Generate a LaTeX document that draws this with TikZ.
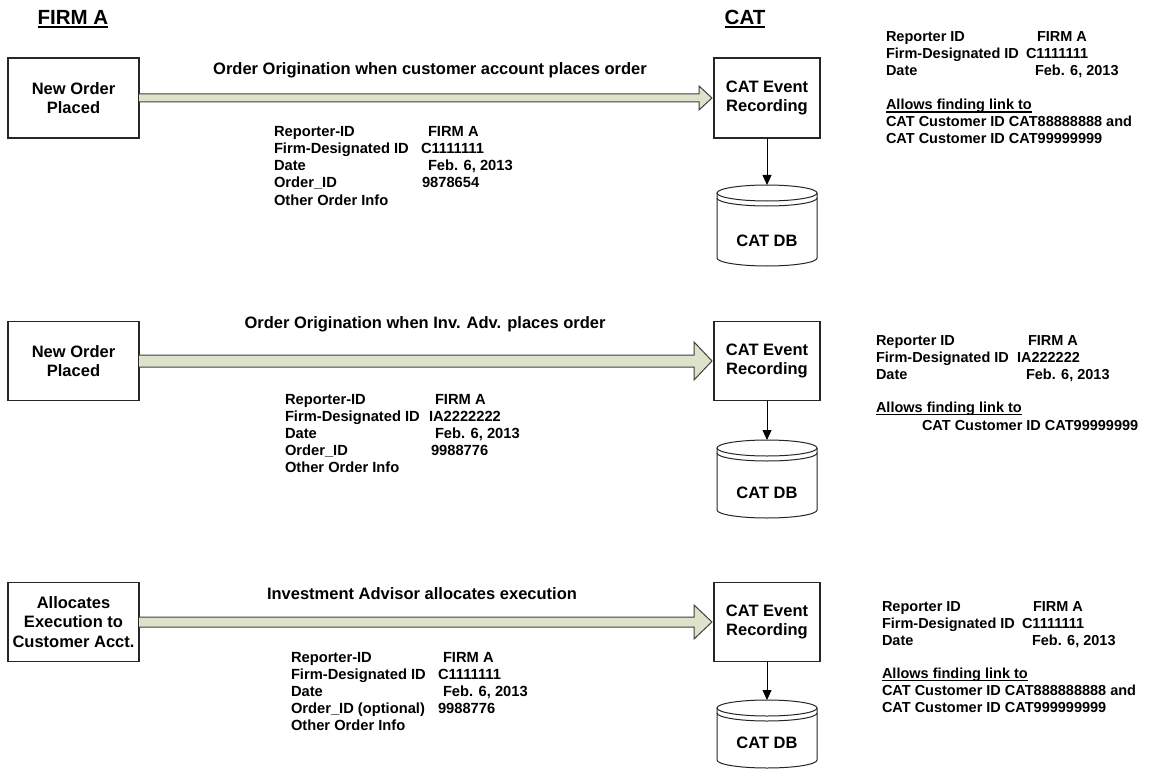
\documentclass[tikz,border=0pt]{standalone}
\usepackage{fontspec}
\setmainfont{Liberation Sans}
\usetikzlibrary{arrows.meta,calc}
\definecolor{arrowfill}{RGB}{221,227,203}
\newcommand\myul[2]{\setbox0\hbox{#2}\rlap{\rule[-2.8pt]{\wd0}{#1}}\box0}
\newcommand\fatarrow[5]{% from, to, shaft half, head half, head length
  \fill[arrowfill] ($(#1.east)+(0,-#3)$) -- ($(#2.west)+(-#5-2,-#3)$) -- ($(#2.west)+(-#5-2,-#4)$) -- ($(#2.west)+(-2,0)$) -- ($(#2.west)+(-#5-2,#4)$) -- ($(#2.west)+(-#5-2,#3)$) -- ($(#1.east)+(0,#3)$) -- cycle;
  \draw[fat] ($(#1.east)+(0,-#3)$) -- ($(#2.west)+(-#5-2,-#3)$) -- ($(#2.west)+(-#5-2,-#4)$) -- ($(#2.west)+(-2,0)$) -- ($(#2.west)+(-#5-2,#4)$) -- ($(#2.west)+(-#5-2,#3)$) -- ($(#1.east)+(0,#3)$);}
\newcommand\catdb[4]{% name, cx, top, bottom
  \draw[dbline] (#2-50,#3+8) -- (#2-50,#4-8) arc[start angle=180,end angle=0,x radius=50,y radius=8] -- (#2+50,#3+8);
  \draw[dbline] (#2,#3+8) ellipse[x radius=50,y radius=8];
  \draw[dbline] (#2-50,#3+13) arc[start angle=180,end angle=0,x radius=50,y radius=8];
  \coordinate (#1-top) at (#2,#3);
  \node[lbl,anchor=base] (#1) at (#2,#4-20) {CAT DB};}
\begin{document}
\begin{tikzpicture}[x=1pt,y=-1pt,
  every node/.style={inner sep=0pt,outer sep=0pt},
  box/.style={draw=black!85,line width=1.1pt,align=center,font=\fontsize{16.5}{19.5}\selectfont\bfseries},
  dt/.style={anchor=base west,font=\fontsize{14.7}{17}\selectfont\bfseries},
  rt/.style={anchor=base west,font=\fontsize{14.5}{17}\selectfont\bfseries},
  lbl/.style={font=\fontsize{16.5}{19.5}\selectfont\bfseries},
  arrlbl/.style={anchor=base,font=\fontsize{16.5}{19.5}\selectfont\bfseries},
  head/.style={anchor=base,font=\fontsize{20.5}{24}\selectfont\bfseries},
  fat/.style={draw=black!75,line width=1pt,line join=miter},
  dbline/.style={draw=black!85,line width=1pt},
  down/.style={draw,line width=0.9pt,-{Triangle[length=10pt,width=9pt]}}
]
\useasboundingbox (0,0) rectangle (1158,770);
\fill[white] (0,0) rectangle (1158,770);

% headings
\node[head] (hfirm) at (73,25) {\myul{2pt}{FIRM A}};
\node[head] (hcat) at (745,25) {\myul{2pt}{CAT}};

% ---------- row 1 ----------
\node[box,minimum width=131,minimum height=80] (a1) at (73.5,98) {New Order\\Placed};
\node[box,minimum width=106,minimum height=80] (c1) at (767,98) {CAT Event\\Recording};
\fatarrow{a1}{c1}{4}{12}{13}
\node[arrlbl] (l1) at (430,75) {Order Origination when customer account places order};
\catdb{db1}{767}{185}{266}
\draw[down] (c1.south) -- (db1-top);

\node[dt] (d1a) at (274,137) {Reporter-ID};
\node[dt] (d1b) at (274,154) {Firm-Designated ID};
\node[dt] (d1c) at (274,171) {Date};
\node[dt] (d1d) at (274,188) {Order\_ID};
\node[dt] (d1e) at (274,205) {Other Order Info};
\node[dt] (v1a) at (428,137) {FIRM A};
\node[dt] (v1b) at (421,154) {C1111111};
\node[dt] (v1c) at (428,171) {Feb. 6, 2013};
\node[dt] (v1d) at (422,188) {9878654};

\node[rt] (r1a) at (886,42) {Reporter ID};
\node[rt] (r1b) at (886,59) {Firm-Designated ID};
\node[rt] (r1c) at (886,76) {Date};
\node[rt] (s1a) at (1037,42) {FIRM A};
\node[rt] (s1b) at (1026,59) {C1111111};
\node[rt] (s1c) at (1035,76) {Feb. 6, 2013};
\node[rt] (r1d) at (886,110) {\myul{1.3pt}{Allows finding link to}};
\node[rt] (r1e) at (886,127) {CAT Customer ID CAT88888888 and};
\node[rt] (r1f) at (886,144) {CAT Customer ID CAT99999999};

% ---------- row 2 ----------
\node[box,minimum width=131,minimum height=79] (a2) at (73.5,361) {New Order\\Placed};
\node[box,minimum width=106,minimum height=79] (c2) at (767,361) {CAT Event\\Recording};
\fatarrow{a2}{c2}{6}{19}{18}
\node[arrlbl] (l2) at (425,328) {Order Origination when Inv. Adv. places order};
\catdb{db2}{767}{440}{518}
\draw[down] (c2.south) -- (db2-top);

\node[dt] (d2a) at (285,404) {Reporter-ID};
\node[dt] (d2b) at (285,421) {Firm-Designated ID};
\node[dt] (d2c) at (285,438) {Date};
\node[dt] (d2d) at (285,455) {Order\_ID};
\node[dt] (d2e) at (285,472) {Other Order Info};
\node[dt] (v2a) at (435,404) {FIRM A};
\node[dt] (v2b) at (429,421) {IA2222222};
\node[dt] (v2c) at (435,438) {Feb. 6, 2013};
\node[dt] (v2d) at (431,455) {9988776};

\node[rt] (r2a) at (876,345) {Reporter ID};
\node[rt] (r2b) at (876,362) {Firm-Designated ID};
\node[rt] (r2c) at (876,379) {Date};
\node[rt] (s2a) at (1028,345) {FIRM A};
\node[rt] (s2b) at (1017,362) {IA222222};
\node[rt] (s2c) at (1026,379) {Feb. 6, 2013};
\node[rt] (r2d) at (876,412) {\myul{1.3pt}{Allows finding link to}};
\node[rt] (r2e) at (922,430) {CAT Customer ID CAT99999999};

% ---------- row 3 ----------
\node[box,minimum width=131,minimum height=79] (a3) at (73.5,622) {Allocates\\Execution to\\Customer Acct.};
\node[box,minimum width=106,minimum height=79] (c3) at (767,622) {CAT Event\\Recording};
\fatarrow{a3}{c3}{5}{17}{18}
\node[arrlbl] (l3) at (422,599) {Investment Advisor allocates execution};
\catdb{db3}{767}{700}{768}
\draw[down] (c3.south) -- (db3-top);

\node[dt] (d3a) at (291,662) {Reporter-ID};
\node[dt] (d3b) at (291,679) {Firm-Designated ID};
\node[dt] (d3c) at (291,696) {Date};
\node[dt] (d3d) at (291,713) {Order\_ID (optional)};
\node[dt] (d3e) at (291,730) {Other Order Info};
\node[dt] (v3a) at (443,662) {FIRM A};
\node[dt] (v3b) at (438,679) {C1111111};
\node[dt] (v3c) at (443,696) {Feb. 6, 2013};
\node[dt] (v3d) at (438,713) {9988776};

\node[rt] (r3a) at (882,611) {Reporter ID};
\node[rt] (r3b) at (882,628) {Firm-Designated ID};
\node[rt] (r3c) at (882,645) {Date};
\node[rt] (s3a) at (1033,611) {FIRM A};
\node[rt] (s3b) at (1022,628) {C1111111};
\node[rt] (s3c) at (1032,645) {Feb. 6, 2013};
\node[rt] (r3d) at (882,678) {\myul{1.3pt}{Allows finding link to}};
\node[rt] (r3e) at (882,695) {CAT Customer ID CAT888888888 and};
\node[rt] (r3f) at (882,712) {CAT Customer ID CAT999999999};
\end{tikzpicture}
\end{document}
